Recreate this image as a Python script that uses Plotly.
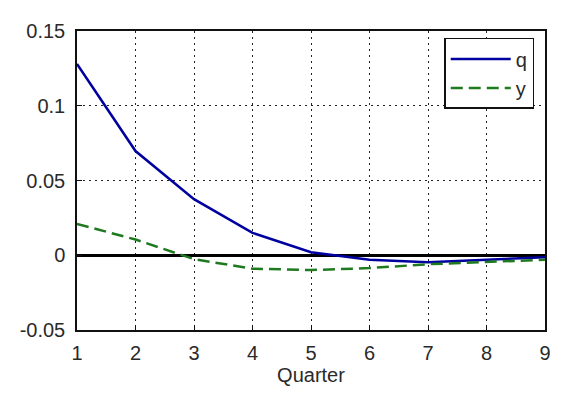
import plotly.graph_objects as go

quarters = [1, 2, 3, 4, 5, 6, 7, 8, 9]
q_values = [0.128, 0.0697, 0.0375, 0.015, 0.002, -0.003, -0.0046, -0.003, -0.0013]
y_values = [0.021, 0.0105, -0.0026, -0.009, -0.0099, -0.0086, -0.006, -0.0046, -0.003]
y_ticks = [-0.05, 0, 0.05, 0.1, 0.15]
y_tick_labels = ["-0.05", "0", "0.05", "0.1", "0.15"]

FONT = "Liberation Sans, Arial"
TXT = "#2a2a2a"

fig = go.Figure()
fig.add_trace(go.Scatter(x=quarters, y=q_values, mode="lines", name="q",
                         line=dict(color="#0000a0", width=2.5)))
fig.add_trace(go.Scatter(x=quarters, y=y_values, mode="lines", name="y",
                         line=dict(color="#1f7a1f", width=2.5, dash="12px,6px")))

axis_common = dict(showline=True, mirror=True, linecolor="#111", linewidth=1.5,
                   showgrid=True, gridcolor="#222", griddash="2px,4px", gridwidth=1,
                   ticks="inside", ticklen=5, tickcolor="#111",
                   tickfont=dict(family=FONT, size=20, color=TXT))

fig.update_xaxes(range=[1, 9], tickvals=quarters, zeroline=False, ticklabelstandoff=4,
                 title=dict(text="Quarter", font=dict(family=FONT, size=20, color=TXT), standoff=2),
                 **axis_common)
fig.update_yaxes(range=[-0.05, 0.15], tickvals=y_ticks, ticktext=y_tick_labels,
                 zeroline=True, zerolinecolor="black", zerolinewidth=2.5, ticklabelstandoff=6,
                 **axis_common)

fig.update_layout(
    width=555, height=390,
    margin=dict(l=66, r=15, t=18, b=68),
    paper_bgcolor="white", plot_bgcolor="white",
    showlegend=True,
    legend=dict(x=0.977, y=0.977, xanchor="right", yanchor="top",
                bordercolor="#111", borderwidth=1.5, bgcolor="white",
                font=dict(family=FONT, size=20, color=TXT),
                itemwidth=60, tracegroupgap=2),
)

fig.write_html("out.html")
